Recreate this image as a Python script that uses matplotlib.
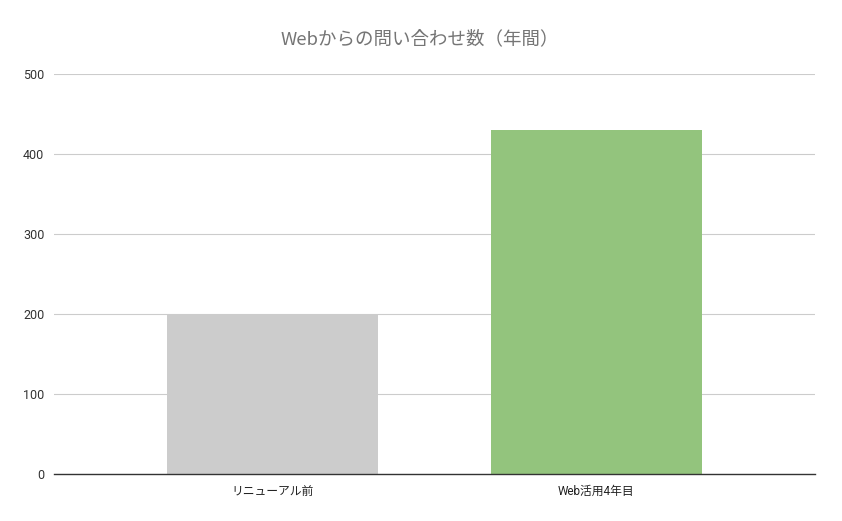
import matplotlib
matplotlib.use("Agg")
import matplotlib.pyplot as plt

categories = ["リニューアル前", "Web活用4年目"]
values = [200, 430]
bar_colors = ["#cccccc", "#93c47d"]
y_ticks = [0, 100, 200, 300, 400, 500]

fonts = ["Roboto", "Noto Sans CJK JP", "DejaVu Sans"]
plt.rcParams["font.family"] = fonts

fig = plt.figure(figsize=(8.42, 5.21), dpi=100)
ax = fig.add_axes([54 / 842, 47 / 521, 761 / 842, 400 / 521])

x = range(len(categories))
ax.bar(x, values, width=0.65, color=bar_colors, zorder=3)

ax.set_xlim(-0.675, 1.675)
ax.set_ylim(0, 500)
ax.set_yticks(y_ticks)
ax.set_xticks(list(x))
ax.set_xticklabels(categories, fontsize=8.5, color="#222222")
ax.tick_params(axis="y", labelsize=9, labelcolor="#333333", length=0, pad=7)
ax.tick_params(axis="x", length=0, pad=8)

ax.grid(True, axis="y", color="#cccccc", linewidth=0.8, zorder=0)
for s in ["top", "right", "left"]:
    ax.spines[s].set_visible(False)
ax.spines["bottom"].set_color("#333333")
ax.spines["bottom"].set_linewidth(1.0)
ax.spines["bottom"].set_zorder(4)

fig.text(0.499, 1 - 39 / 521, "Webからの問い合わせ数（年間）",
         ha="center", va="center", fontsize=13.3, color="#757575",
         family=["Noto Sans CJK JP", "DejaVu Sans"])

fig.savefig("out.png", dpi=100, facecolor="white")
